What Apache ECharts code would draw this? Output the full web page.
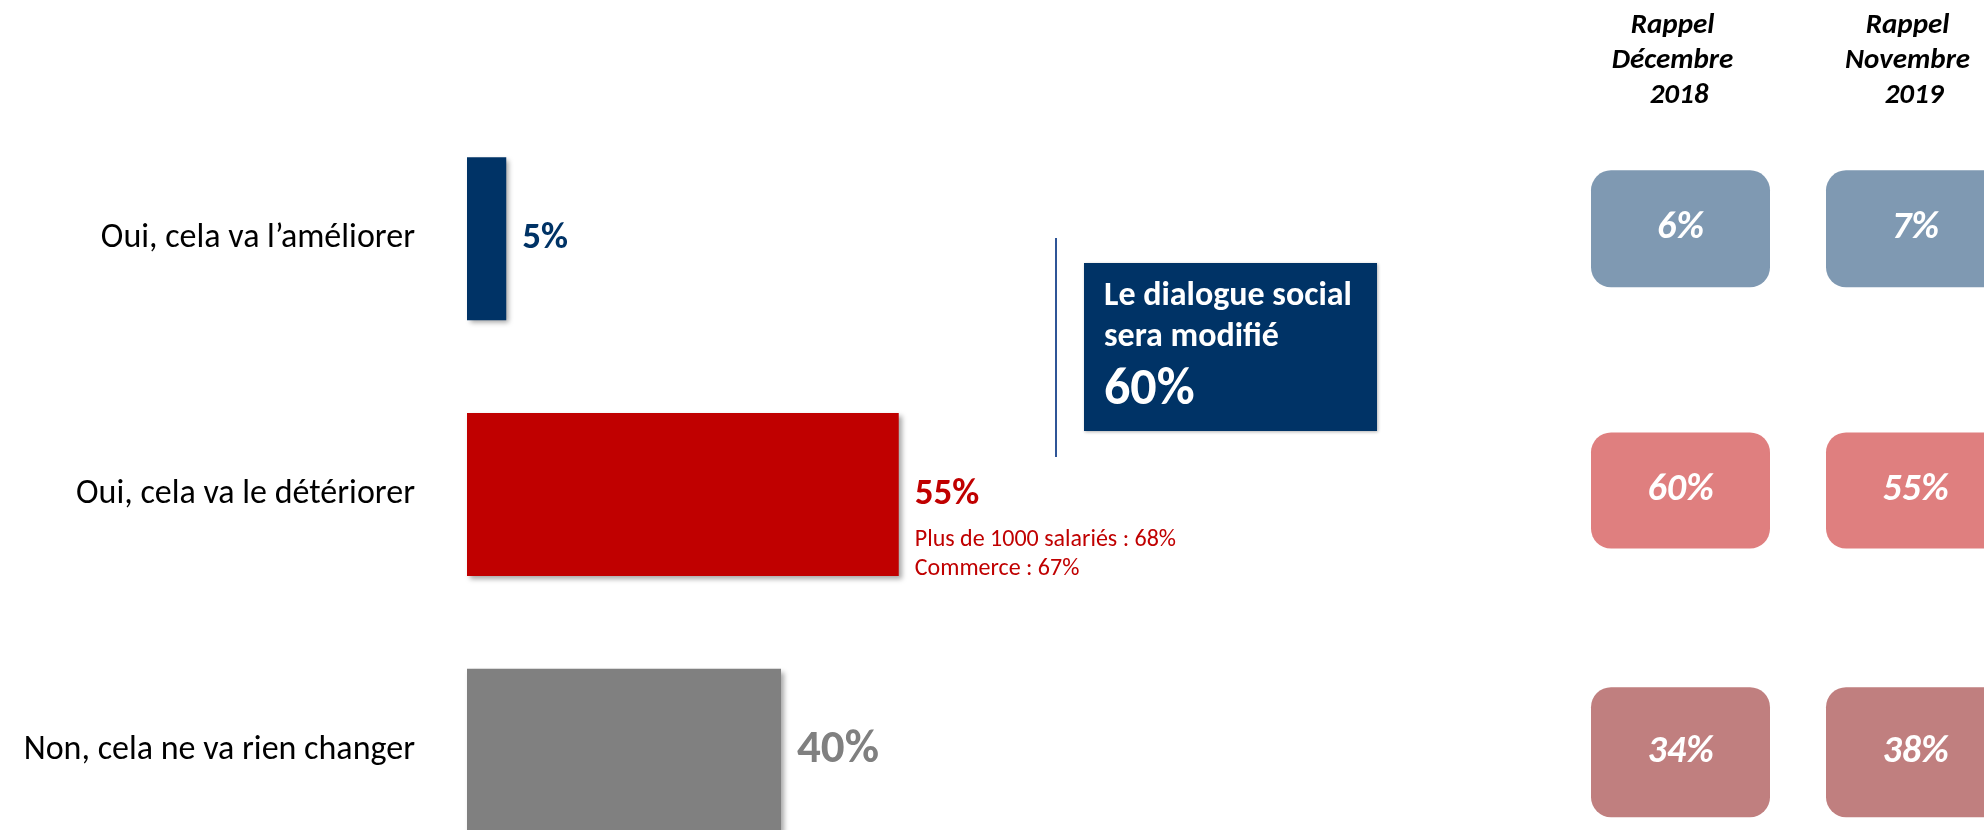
<!DOCTYPE html>
<html>
<head>
<meta charset="utf-8">
<script src="https://cdn.jsdelivr.net/npm/echarts@6/dist/echarts.min.js"></script>
<style>
  html, body { margin: 0; padding: 0; background: #ffffff; }
  #chart { width: 1984px; height: 830px; }
</style>
</head>
<body>
<div id="chart"></div>
<script>
// Réponses à la question principale
const categories = ['Oui, cela va l\u2019améliorer', 'Oui, cela va le détériorer', 'Non, cela ne va rien changer'];
const valeurs = [5, 55, 40];
const barColors = ['#003366', '#C00000', '#808080'];
const labelColors = ['#003366', '#C00000', '#808080'];

// Détail sous la barre « détériorer »
const detailDeterioration = ['Plus de 1000 salariés : 68%', 'Commerce : 67%'];

// Rappels des vagues précédentes
const rappelHeaders = ['Rappel\nDécembre\n  2018', 'Rappel\nNovembre\n  2019'];
const rappelDec2018 = [6, 60, 34];
const rappelNov2019 = [7, 55, 38];
const rappelColors = ['#7F99B2', '#DF7F7F', '#C07F7F'];
const rappelBoxHeights = [117, 116, 130];

// Encadré de synthèse
const encadreTitre = ['Le dialogue social', 'sera modifié'];

const FONT = 'Carlito, Lato, "Open Sans", sans-serif';

const chart = echarts.init(document.getElementById('chart'), null, { renderer: 'canvas' });

const barData = valeurs.map(function (v, i) {
  const item = {
    value: v,
    itemStyle: { color: barColors[i] },
    label: { color: labelColors[i] }
  };
  if (i === 1) {
    item.label = {
      color: labelColors[i],
      offset: [0, 29],
      formatter: function (p) {
        return '{v|' + p.value + '%}\n' + detailDeterioration.map(function (t) { return '{s|' + t + '}'; }).join('\n');
      },
      rich: {
        v: { fontFamily: FONT, fontSize: 37, fontWeight: 'bold', lineHeight: 62, color: labelColors[i] },
        s: { fontFamily: FONT, fontSize: 24, fontWeight: 'normal', lineHeight: 29, color: labelColors[i] }
      }
    };
  }
  if (i === 2) {
    item.label = { color: labelColors[i], fontSize: 47 };
  }
  return item;
});

const rappelData = [];
rappelDec2018.forEach(function (v, i) { rappelData.push([0, i, v]); });
rappelNov2019.forEach(function (v, i) { rappelData.push([1, i, v]); });

const totalModifie = valeurs[0] + valeurs[1];

chart.setOption({
  animation: false,
  backgroundColor: '#ffffff',
  grid: [
    { left: 467, top: 111, width: 785, height: 767, containLabel: false, outerBoundsMode: 'none' },
    { left: 1563, top: 98, width: 470, height: 785, containLabel: false, outerBoundsMode: 'none' }
  ],
  xAxis: [
    { type: 'value', gridIndex: 0, min: 0, max: 100, show: false },
    { type: 'category', gridIndex: 1, data: ['Décembre 2018', 'Novembre 2019'], show: false }
  ],
  yAxis: [
    {
      type: 'category', gridIndex: 0, data: categories, inverse: true,
      axisLine: { show: false }, axisTick: { show: false }, splitLine: { show: false },
      axisLabel: { fontFamily: FONT, fontSize: 34, color: '#000000', margin: 52 }
    },
    {
      type: 'category', gridIndex: 1, data: categories, inverse: true, show: false
    }
  ],
  series: [
    {
      type: 'bar',
      xAxisIndex: 0, yAxisIndex: 0,
      barWidth: 163,
      data: barData,
      itemStyle: {
        shadowColor: 'rgba(0,0,0,0.35)',
        shadowBlur: 5,
        shadowOffsetX: 3,
        shadowOffsetY: 3
      },
      label: {
        show: true,
        position: 'right',
        distance: 16,
        fontFamily: FONT,
        fontSize: 37,
        fontWeight: 'bold',
        formatter: '{c}%'
      }
    },
    {
      type: 'custom',
      xAxisIndex: 1, yAxisIndex: 1,
      data: rappelData,
      renderItem: function (params, api) {
        const c = api.coord([api.value(0), api.value(1)]);
        const w = 179, h = rappelBoxHeights[api.value(1)];
        return {
          type: 'rect',
          shape: { x: c[0] - w / 2, y: c[1] - h / 2, width: w, height: h, r: 20 },
          style: { fill: rappelColors[api.value(1)] },
          textContent: {
            style: {
              text: api.value(2) + '%',
              fill: '#ffffff',
              fontFamily: FONT,
              fontSize: 38,
              fontWeight: 'bold',
              fontStyle: 'italic'
            }
          },
          textConfig: { position: 'inside' }
        };
      }
    }
  ]
});

// Titres des colonnes de rappel, au-dessus de leurs colonnes
const headerGraphics = rappelHeaders.map(function (t, j) {
  const x = chart.convertToPixel({ xAxisIndex: 1 }, j) - 8;
  return {
    type: 'text',
    x: x,
    y: 61,
    style: {
      text: t,
      fontFamily: FONT,
      fontSize: 29,
      fontWeight: 'bold',
      fontStyle: 'italic',
      fill: '#000000',
      lineHeight: 35,
      align: 'center',
      verticalAlign: 'middle'
    }
  };
});

chart.setOption({
  graphic: headerGraphics.concat([
    {
      type: 'line',
      shape: { x1: 1056, y1: 238, x2: 1056, y2: 457 },
      style: { stroke: '#2F5597', lineWidth: 2 }
    },
    {
      type: 'rect',
      shape: { x: 1084, y: 263, width: 293, height: 168 },
      style: { fill: '#003366', shadowColor: 'rgba(0,0,0,0.3)', shadowBlur: 3, shadowOffsetX: 1, shadowOffsetY: 1 }
    },
    {
      type: 'text',
      x: 1104,
      y: 276,
      style: {
        text: encadreTitre.map(function (t) { return '{t|' + t + '}'; }).join('\n') + '\n{b|' + totalModifie + '%}',
        rich: {
          t: { fontFamily: FONT, fontSize: 34, fontWeight: 'bold', lineHeight: 41, fill: '#ffffff' },
          b: { fontFamily: FONT, fontSize: 52, fontWeight: 'bold', lineHeight: 66, fill: '#ffffff' }
        },
        align: 'left',
        verticalAlign: 'top'
      }
    }
  ])
});
</script>
</body>
</html>
